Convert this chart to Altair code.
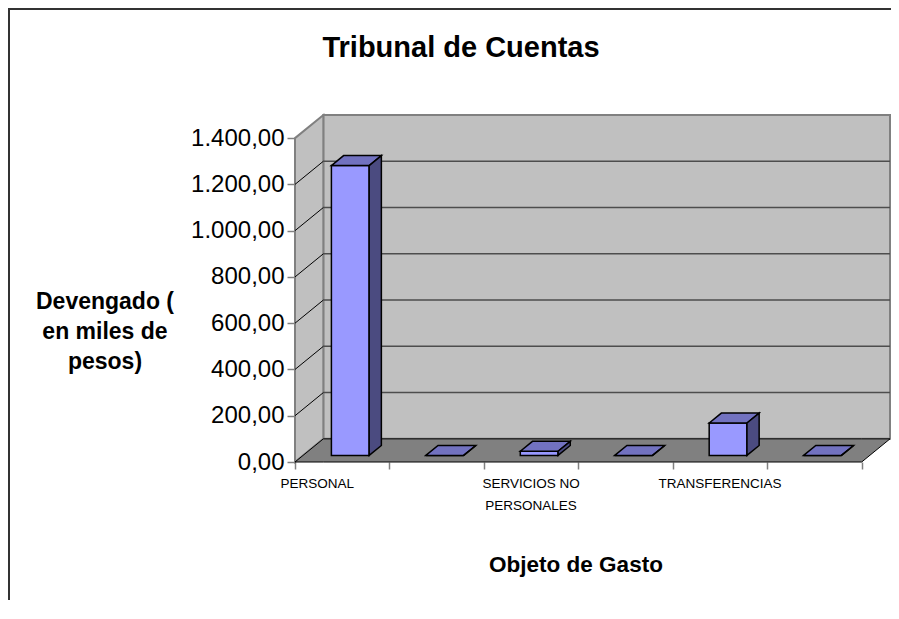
import altair as alt
import pandas as pd

# ---------------- data ----------------
categories = ["PERSONAL", "BIENES DE CONSUMO", "SERVICIOS NO PERSONALES",
              "BIENES DE USO", "TRANSFERENCIAS", "ACTIVOS FINANCIEROS"]
values = [1253, 0, 18, 0, 140, 0]
shown_labels = ["PERSONAL", "", "SERVICIOS NO\nPERSONALES", "", "TRANSFERENCIAS", ""]
y_ticks = [0, 200, 400, 600, 800, 1000, 1200, 1400]
chart_title = "Tribunal de Cuentas"
y_title = "Devengado (\nen miles de\npesos)"
x_title = "Objeto de Gasto"

# ---------------- 3D geometry (style constants) ----------------
N = len(categories)
YMAX = 1400
DX = 0.30      # depth offset, x units
DY = 100       # depth offset, value units
BAR_W = 0.40
F = 0.43       # bar depth fraction
OX, OY = DX * (1 - F) / 2, DY * (1 - F) / 2
BD, BE = DX * F, DY * F

FONT = "Liberation Sans"
W, H = 595, 347

xs = alt.Scale(domain=[0, N + DX], nice=False, zero=False)
ys = alt.Scale(domain=[0, YMAX + DY], nice=False, zero=False)
xaxis = alt.Axis(values=list(range(N + 1)), labels=False, domain=False, grid=False,
                 tickSize=7, tickColor="#808080", tickWidth=1.5, title=None)
label_expr = ("replace(replace(replace(format(datum.value, ',.2f'), ',', '#'), '.', ','), '#', '.')")
yaxis = alt.Axis(values=y_ticks, domain=False, grid=False, tickSize=8, tickColor="#808080",
                 tickWidth=1.5, labelFontSize=24, labelFont=FONT, labelColor="black",
                 labelPadding=3, title=None, labelExpr=label_expr)


def X(f):
    return alt.X(f, type="quantitative", scale=xs, axis=xaxis)


def Y(f):
    return alt.Y(f, type="quantitative", scale=ys, axis=yaxis)


def area_layer(df, fill, stroke, sw):
    return alt.Chart(df).mark_area(fill=fill, stroke=stroke, strokeWidth=sw,
                                   strokeJoin="miter").encode(
        x=X("x"), y=Y("hi"), y2=alt.Y2("lo"), detail="id:N")


# walls and floor
side_wall = pd.DataFrame({"id": ["s", "s"], "x": [0, DX], "lo": [0, DY], "hi": [YMAX, YMAX + DY]})
back_wall = pd.DataFrame({"id": ["b", "b"], "x": [DX, N + DX], "lo": [DY, DY],
                          "hi": [YMAX + DY, YMAX + DY]})
floor = pd.DataFrame({"id": ["f"] * 4, "x": [0, DX, N, N + DX],
                      "lo": [0, 0, 0, DY], "hi": [0, DY, DY, DY]})
grid_back = pd.DataFrame({"x": [DX] * 6, "x2": [N + DX] * 6,
                          "y": [v + DY for v in y_ticks[1:-1]]})
grid_side = pd.DataFrame({"x": [0] * 6, "x2": [DX] * 6, "y": y_ticks[1:-1],
                          "y2": [v + DY for v in y_ticks[1:-1]]})

# bars
front_rows, top_rows, side_rows = [], [], []
for i, (c, v) in enumerate(zip(categories, values)):
    x0 = i + 0.5 - BAR_W / 2 + OX
    x1 = x0 + BAR_W
    b = OY
    t = OY + v
    front_rows.append({"id": c, "x": x0, "x2": x1, "lo": b, "hi": t})
    for xx, lo, hi in [(x0, t, t), (x0 + BD, t, t + BE), (x1, t, t + BE), (x1 + BD, t + BE, t + BE)]:
        top_rows.append({"id": c, "x": xx, "lo": lo, "hi": hi})
    for xx, lo, hi in [(x1, b, t), (x1 + BD, b + BE, t + BE)]:
        side_rows.append({"id": c, "x": xx, "lo": lo, "hi": hi})
front_df = pd.DataFrame(front_rows)
top_df = pd.DataFrame(top_rows)
side_df = pd.DataFrame(side_rows)

layers = [
    area_layer(back_wall, "#C0C0C0", "#808080", 2),
    area_layer(side_wall, "#C0C0C0", "#808080", 2),
    alt.Chart(grid_back).mark_rule(color="#4D4D4D", strokeWidth=1.5).encode(
        x=X("x"), x2="x2:Q", y=Y("y")),
    alt.Chart(grid_side).mark_rule(color="#000000", strokeWidth=1).encode(
        x=X("x"), x2="x2:Q", y=Y("y"), y2="y2:Q"),
    area_layer(floor, "#808080", "#000000", 1),
    alt.Chart(front_df).mark_rect(fill="#9999FF", stroke="black", strokeWidth=1.5).encode(
        x=X("x"), x2="x2:Q", y=Y("lo"), y2="hi:Q"),
    area_layer(top_df, "#7272C0", "black", 1.5),
    area_layer(side_df, "#4B4B80", "black", 1.5),
]

# category labels (the first one sits a little left of its category centre)
lab_df = pd.DataFrame({"pos": [i + 0.5 for i in range(N)], "lab": shown_labels})
lab_df = lab_df[lab_df["lab"] != ""]
first_lab = lab_df.iloc[:1]
rest_lab = lab_df.iloc[1:]
text_style = dict(fontSize=13.5, font=FONT, align="center", baseline="top",
                  lineBreak="\n", lineHeight=22, color="black")
layers.append(alt.Chart(first_lab).mark_text(dx=-25, **text_style).encode(
    x=X("pos"), y=alt.value(H + 15), text="lab:N"))
layers.append(alt.Chart(rest_lab).mark_text(**text_style).encode(
    x=X("pos"), y=alt.value(H + 15), text="lab:N"))

one = pd.DataFrame({"a": [0]})
layers.append(alt.Chart(one).mark_text(fontSize=29, fontWeight="bold", font=FONT, align="center",
                                       baseline="middle", color="black").encode(
    x=alt.value(166), y=alt.value(-67), text=alt.value(chart_title)))
layers.append(alt.Chart(one).mark_text(fontSize=23, fontWeight="bold", font=FONT, align="center",
                                       baseline="middle", lineBreak="\n", lineHeight=30,
                                       color="black").encode(
    x=alt.value(-190), y=alt.value(187), text=alt.value(y_title)))
layers.append(alt.Chart(one).mark_text(fontSize=22.5, fontWeight="bold", font=FONT, align="center",
                                       baseline="middle", color="black").encode(
    x=alt.value(281), y=alt.value(450), text=alt.value(x_title)))

# frame
layers.append(alt.Chart(one).mark_rule(color="#333333", strokeWidth=2).encode(
    x=alt.value(-286), y=alt.value(-106), y2=alt.value(H + 140)))
layers.append(alt.Chart(one).mark_rule(color="#333333", strokeWidth=2).encode(
    x=alt.value(-287), x2=alt.value(W + 1), y=alt.value(-106)))

chart = alt.layer(*layers).properties(
    width=W, height=H,
    autosize=alt.AutoSizeParams(type="none"),
    padding={"left": 287, "top": 107, "right": 1, "bottom": 138},
).configure_view(strokeWidth=0)

chart.save("out.html", embed_options={"renderer": "svg", "actions": False})
